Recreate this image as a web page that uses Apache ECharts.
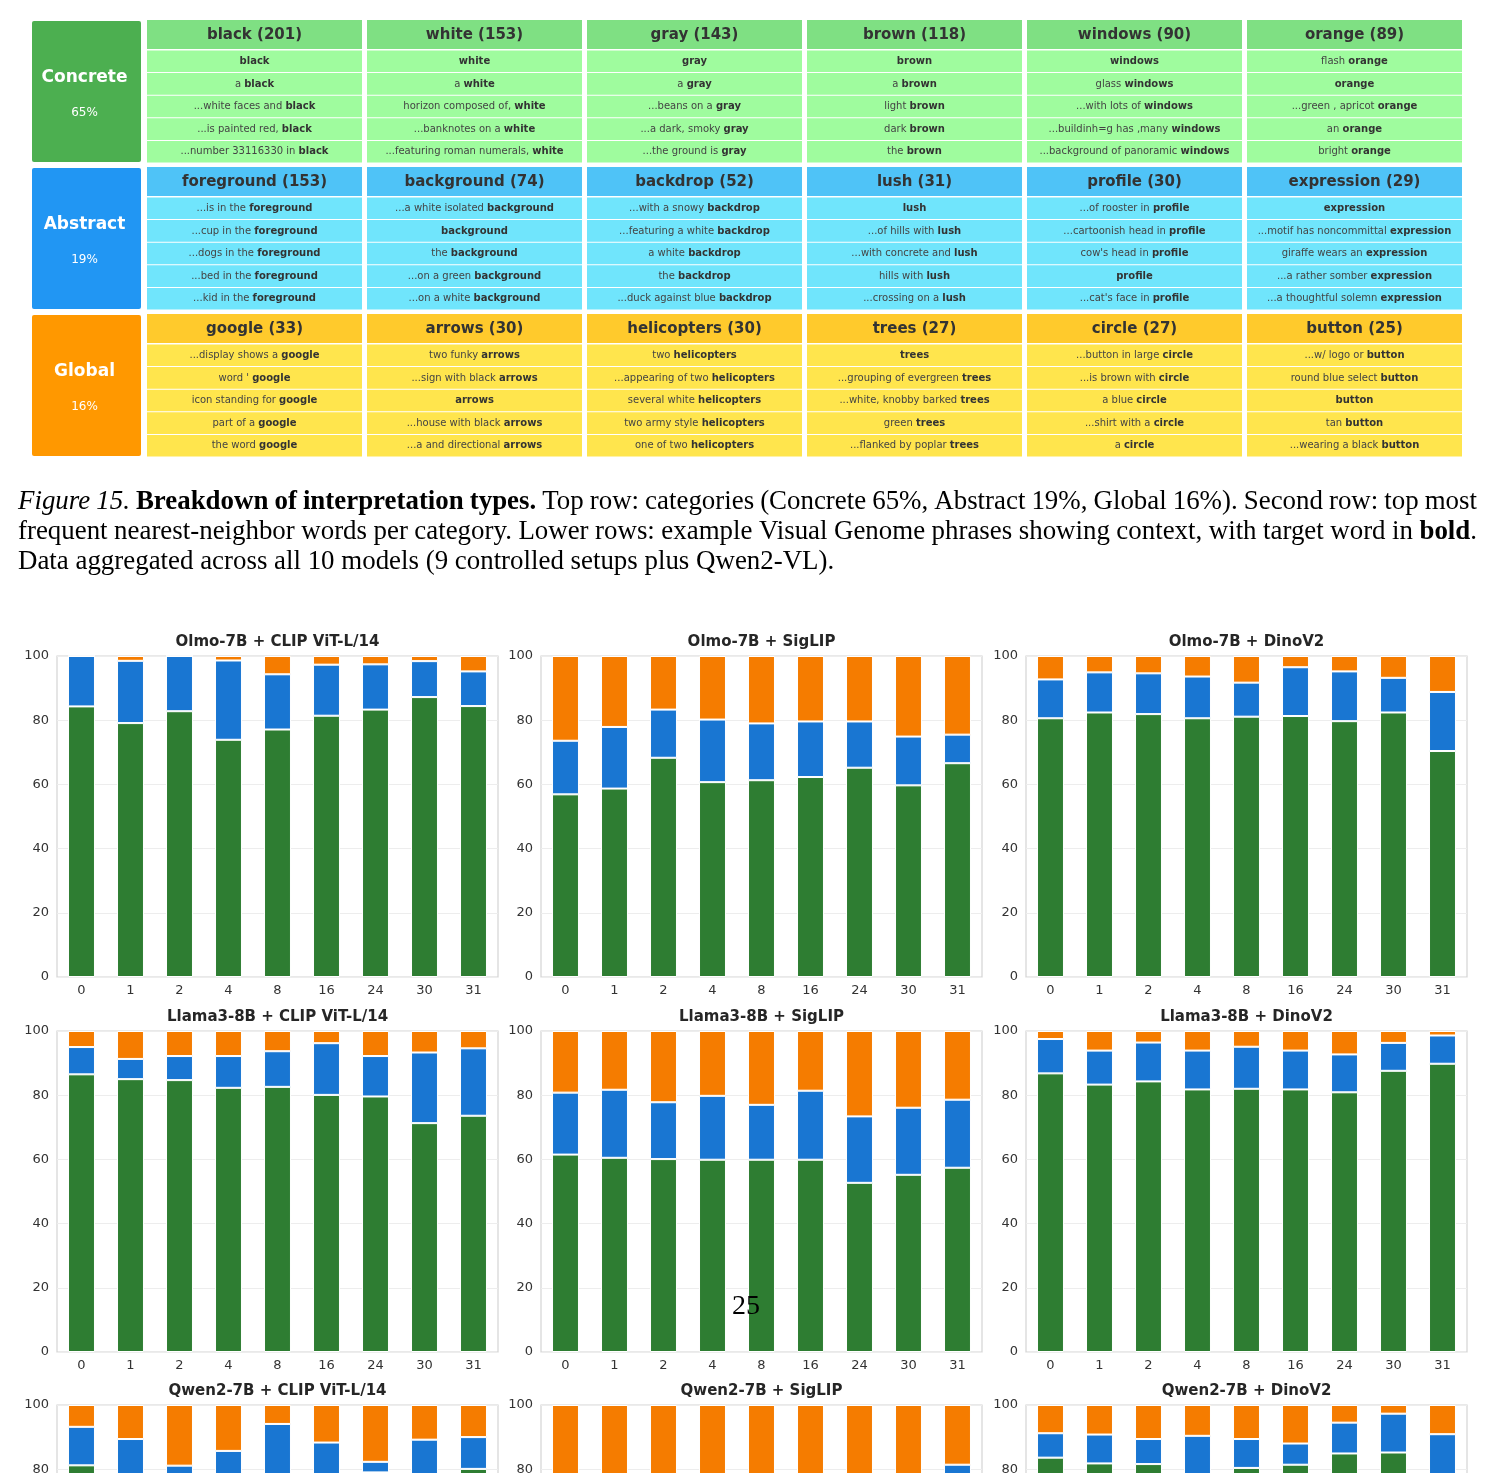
<!DOCTYPE html>
<html>
<head>
<meta charset="utf-8">
<script src="https://cdn.jsdelivr.net/npm/echarts@6/dist/echarts.min.js"></script>
<style>
  html, body { margin: 0; padding: 0; background: #fff; overflow: hidden; }
  /* taller than the window: the bottom row of panels runs off the page */
  #chart { width: 1496px; height: 1800px; }
</style>
</head>
<body>
<div id="chart"></div>
<script>
// ---------- table data ----------
const groupNames = ['Concrete', 'Abstract', 'Global'];
const groupShares = ['65%', '19%', '16%'];

const concreteWords = ['black', 'white', 'gray', 'brown', 'windows', 'orange'];
const concreteCounts = [201, 153, 143, 118, 90, 89];
const concretePhrases = [
  ['black', 'a black', '...white faces and black', '...is painted red, black', '...number 33116330 in black'],
  ['white', 'a white', 'horizon composed of, white', '...banknotes on a white', '...featuring roman numerals, white'],
  ['gray', 'a gray', '...beans on a gray', '...a dark, smoky gray', '...the ground is gray'],
  ['brown', 'a brown', 'light brown', 'dark brown', 'the brown'],
  ['windows', 'glass windows', '...with lots of windows', '...buildinh=g has ,many windows', '...background of panoramic windows'],
  ['flash orange', 'orange', '...green , apricot orange', 'an orange', 'bright orange']
];

const abstractWords = ['foreground', 'background', 'backdrop', 'lush', 'profile', 'expression'];
const abstractCounts = [153, 74, 52, 31, 30, 29];
const abstractPhrases = [
  ['...is in the foreground', '...cup in the foreground', '...dogs in the foreground', '...bed in the foreground', '...kid in the foreground'],
  ['...a white isolated background', 'background', 'the background', '...on a green background', '...on a white background'],
  ['...with a snowy backdrop', '...featuring a white backdrop', 'a white backdrop', 'the backdrop', '...duck against blue backdrop'],
  ['lush', '...of hills with lush', '...with concrete and lush', 'hills with lush', '...crossing on a lush'],
  ['...of rooster in profile', '...cartoonish head in profile', "cow's head in profile", 'profile', "...cat's face in profile"],
  ['expression', '...motif has noncommittal expression', 'giraffe wears an expression', '...a rather somber expression', '...a thoughtful solemn expression']
];

const globalWords = ['google', 'arrows', 'helicopters', 'trees', 'circle', 'button'];
const globalCounts = [33, 30, 30, 27, 27, 25];
const globalPhrases = [
  ['...display shows a google', "word ' google", 'icon standing for google', 'part of a google', 'the word google'],
  ['two funky arrows', '...sign with black arrows', 'arrows', '...house with black arrows', '...a and directional arrows'],
  ['two helicopters', '...appearing of two helicopters', 'several white helicopters', 'two army style helicopters', 'one of two helicopters'],
  ['trees', '...grouping of evergreen trees', '...white, knobby barked trees', 'green trees', '...flanked by poplar trees'],
  ['...button in large circle', '...is brown with circle', 'a blue circle', '...shirt with a circle', 'a circle'],
  ['...w/ logo or button', 'round blue select button', 'button', 'tan button', '...wearing a black button']
];

// ---------- caption ----------
const captionLines = [
  [['Figure 15. ', 'i'], ['Breakdown of interpretation types. ', 'b'], ['Top row: categories (Concrete 65%, Abstract 19%, Global 16%). Second row: top most', 'n']],
  [['frequent nearest-neighbor words per category. Lower rows: example Visual Genome phrases showing context, with target word in ', 'n'], ['bold', 'b'], ['.', 'n']],
  [['Data aggregated across all 10 models (9 controlled setups plus Qwen2-VL).', 'n']]
];
const pageNumber = '25';

// ---------- bar chart data (percent of interpretations per layer) ----------
const layers = ['0', '1', '2', '4', '8', '16', '24', '30', '31'];
const panelTitles = [
  'Olmo-7B + CLIP ViT-L/14', 'Olmo-7B + SigLIP', 'Olmo-7B + DinoV2',
  'Llama3-8B + CLIP ViT-L/14', 'Llama3-8B + SigLIP', 'Llama3-8B + DinoV2',
  'Qwen2-7B + CLIP ViT-L/14', 'Qwen2-7B + SigLIP', 'Qwen2-7B + DinoV2'
];

const olmoClipConcrete = [84.3, 79.1, 82.8, 73.9, 77.1, 81.4, 83.3, 87.2, 84.4];
const olmoClipAbstract = [15.7, 19.4, 17.2, 24.7, 17.2, 15.9, 14.1, 11.2, 10.8];
const olmoClipGlobal   = [0, 1.5, 0, 1.4, 5.7, 2.7, 2.6, 1.6, 4.8];

const olmoSiglipConcrete = [56.9, 58.7, 68.3, 60.7, 61.3, 62.3, 65.2, 59.7, 66.6];
const olmoSiglipAbstract = [16.7, 19.2, 15.0, 19.5, 17.7, 17.3, 14.4, 15.2, 8.9];
const olmoSiglipGlobal   = [26.4, 22.1, 16.7, 19.8, 21.0, 20.4, 20.4, 25.1, 24.5];

const olmoDinoConcrete = [80.6, 82.4, 81.9, 80.6, 81.1, 81.3, 79.7, 82.4, 70.4];
const olmoDinoAbstract = [12.1, 12.5, 12.7, 13.0, 10.6, 15.2, 15.5, 10.8, 18.4];
const olmoDinoGlobal   = [7.3, 5.1, 5.4, 6.4, 8.3, 3.5, 4.8, 6.8, 11.2];

const llamaClipConcrete = [86.5, 85.0, 84.7, 82.3, 82.6, 80.1, 79.6, 71.3, 73.6];
const llamaClipAbstract = [8.5, 6.3, 7.5, 9.9, 11.1, 16.1, 12.6, 22.0, 21.0];
const llamaClipGlobal   = [5.0, 8.7, 7.8, 7.8, 6.3, 3.8, 7.8, 6.7, 5.4];

const llamaSiglipConcrete = [61.5, 60.5, 60.1, 59.9, 59.9, 59.9, 52.7, 55.2, 57.4];
const llamaSiglipAbstract = [19.3, 21.2, 17.7, 19.9, 17.1, 21.5, 20.7, 20.9, 21.2];
const llamaSiglipGlobal   = [19.2, 18.3, 22.2, 20.2, 23.0, 18.6, 26.6, 23.9, 21.4];

const llamaDinoConcrete = [86.8, 83.3, 84.3, 81.8, 82.0, 81.8, 80.9, 87.6, 89.8];
const llamaDinoAbstract = [10.7, 10.6, 12.1, 12.1, 13.1, 12.1, 11.8, 8.7, 8.8];
const llamaDinoGlobal   = [2.5, 6.1, 3.6, 6.1, 4.9, 6.1, 7.3, 3.7, 1.4];

const qwenClipConcrete = [81.2, 62.0, 78.0, 66.0, 71.0, 69.0, 79.0, 64.0, 80.1];
const qwenClipAbstract = [12.0, 27.4, 3.1, 19.7, 23.1, 19.3, 3.3, 25.2, 9.9];
const qwenClipGlobal   = [6.8, 10.6, 18.9, 14.3, 5.9, 11.7, 17.7, 10.8, 10.0];

const qwenSiglipConcrete = [30.0, 32.0, 35.0, 33.0, 34.0, 33.0, 31.0, 30.0, 45.0];
const qwenSiglipAbstract = [15.0, 14.0, 16.0, 17.0, 15.0, 16.0, 18.0, 17.0, 36.4];
const qwenSiglipGlobal   = [55.0, 54.0, 49.0, 50.0, 51.0, 51.0, 51.0, 53.0, 18.6];

const qwenDinoConcrete = [83.6, 81.8, 81.6, 78.0, 80.4, 81.4, 84.9, 85.2, 77.0];
const qwenDinoAbstract = [7.6, 9.0, 7.8, 12.4, 9.0, 6.6, 9.6, 12.1, 13.9];
const qwenDinoGlobal   = [8.8, 9.2, 10.6, 9.6, 10.6, 12.0, 5.5, 2.7, 9.1];

const panelData = [
  [olmoClipConcrete, olmoClipAbstract, olmoClipGlobal],
  [olmoSiglipConcrete, olmoSiglipAbstract, olmoSiglipGlobal],
  [olmoDinoConcrete, olmoDinoAbstract, olmoDinoGlobal],
  [llamaClipConcrete, llamaClipAbstract, llamaClipGlobal],
  [llamaSiglipConcrete, llamaSiglipAbstract, llamaSiglipGlobal],
  [llamaDinoConcrete, llamaDinoAbstract, llamaDinoGlobal],
  [qwenClipConcrete, qwenClipAbstract, qwenClipGlobal],
  [qwenSiglipConcrete, qwenSiglipAbstract, qwenSiglipGlobal],
  [qwenDinoConcrete, qwenDinoAbstract, qwenDinoGlobal]
];
const seriesNames = ['Concrete', 'Abstract', 'Global'];

// ---------- styles ----------
const barColors = ['#2e7d32', '#1976d2', '#f57c00'];
const boxColors = ['#4caf50', '#2196f3', '#ff9800'];
const headColors = ['#7fe083', '#4fc3f7', '#ffca2c'];
const cellColors = ['#9ffc9e', '#70e5fc', '#ffe54d'];
const tableFont = 'DejaVu Sans';

const groupTop = [20, 167, 314];
const colLeft = 147, colStep = 220, colWidth = 215;
const gridLeft = [57, 541, 1026];
const gridTop = [656, 1031, 1405];
const gridW = 441, gridH = 321;

// ---------- table as graphic elements ----------
const elements = [];
const allWords = [concreteWords, abstractWords, globalWords];
const allCounts = [concreteCounts, abstractCounts, globalCounts];
const allPhrases = [concretePhrases, abstractPhrases, globalPhrases];

groupNames.forEach((name, g) => {
  const top = groupTop[g];
  elements.push({ type: 'rect', shape: { x: 32, y: top + 1, width: 109, height: 141, r: 2 }, style: { fill: boxColors[g] } });
  elements.push({ type: 'text', x: 84.5, y: top + 58, style: {
    text: name, fill: '#fff', fontSize: 17, fontWeight: 'bold', fontFamily: tableFont, align: 'center', verticalAlign: 'middle' } });
  elements.push({ type: 'text', x: 84.5, y: top + 93, style: {
    text: groupShares[g], fill: '#fff', fontSize: 12, fontFamily: tableFont, align: 'center', verticalAlign: 'middle' } });

  allWords[g].forEach((word, c) => {
    const x = colLeft + c * colStep;
    elements.push({ type: 'rect', shape: { x, y: top, width: colWidth, height: 29 }, style: { fill: headColors[g] } });
    elements.push({ type: 'text', x: x + colWidth / 2, y: top + 15, style: {
      text: word + ' (' + allCounts[g][c] + ')', fill: '#333', fontSize: 15, fontWeight: 'bold',
      fontFamily: tableFont, align: 'center', verticalAlign: 'middle' } });
    allPhrases[g][c].forEach((phrase, r) => {
      const y = top + 30.5 + r * 22.6;
      const k = phrase.lastIndexOf(word);
      const rich = phrase.slice(0, k) + '{b|' + word + '}' + phrase.slice(k + word.length);
      elements.push({ type: 'rect', shape: { x, y, width: colWidth, height: 21.6 }, style: { fill: cellColors[g] } });
      elements.push({ type: 'text', x: x + colWidth / 2, y: y + 11, style: {
        text: rich, fill: '#444', fontSize: 10, fontFamily: tableFont, align: 'center', verticalAlign: 'middle',
        rich: { b: { fill: '#333', fontSize: 10, fontWeight: 'bold', fontFamily: tableFont } } } });
    });
  });
});

// ---------- caption (justified lines) ----------
const ctx = document.createElement('canvas').getContext('2d');
const capFonts = {
  n: '26.9px "Liberation Serif"',
  i: 'italic 26.9px "Liberation Serif"',
  b: 'bold 26.9px "Liberation Serif"'
};
const capLeft = 18, capRight = 1477, capY = 502, capStep = 30;
const capJustify = [true, true, false];

function splitWords(segs) {
  const out = [];
  let cur = [];
  segs.forEach(([t, s]) => {
    t.split(/( )/).forEach(p => {
      if (p === ' ') { if (cur.length) out.push(cur); cur = []; }
      else if (p) cur.push([p, s]);
    });
  });
  if (cur.length) out.push(cur);
  return out;
}
function textW(t, s) { ctx.font = capFonts[s]; return ctx.measureText(t).width; }

captionLines.forEach((segs, li) => {
  const words = splitWords(segs);
  const widths = words.map(w => w.reduce((a, [t, s]) => a + textW(t, s), 0));
  const total = widths.reduce((a, b) => a + b, 0);
  const gap = capJustify[li] ? (capRight - capLeft - total) / (words.length - 1) : textW(' ', 'n');
  let x = capLeft;
  words.forEach(w => {
    w.forEach(([t, s]) => {
      elements.push({ type: 'text', x, y: capY + li * capStep, style: {
        text: t, font: capFonts[s], fill: '#000', verticalAlign: 'middle' } });
      x += textW(t, s);
    });
    x += gap;
  });
});

// page number printed over the middle panel
elements.push({ type: 'text', x: 746, y: 1307, z: 100, style: {
  text: pageNumber, font: '28px "Liberation Serif"', fill: '#000', align: 'center', verticalAlign: 'middle' } });

// ---------- chart panels ----------
const titles = [], grids = [], xAxes = [], yAxes = [], series = [];
panelTitles.forEach((t, i) => {
  const left = gridLeft[i % 3], top = gridTop[Math.floor(i / 3)];
  titles.push({
    text: t, left: left + gridW / 2, top: top - 21, textAlign: 'center', padding: 0,
    textStyle: { fontSize: 15, fontWeight: 'bold', color: '#262626', fontFamily: 'DejaVu Sans' }
  });
  grids.push({ left, top, width: gridW, height: gridH, show: true, borderColor: '#d4d4d4', borderWidth: 1.2 });
  xAxes.push({
    type: 'category', gridIndex: i, data: layers,
    axisLine: { show: false }, axisTick: { show: false },
    axisLabel: { fontSize: 13, color: '#333', margin: 7, fontFamily: 'DejaVu Sans' }
  });
  yAxes.push({
    type: 'value', gridIndex: i, min: 0, max: 100, interval: 20,
    axisLine: { show: false }, axisTick: { show: false },
    axisLabel: { fontSize: 13, color: '#333', margin: 8, fontFamily: 'DejaVu Sans' },
    splitLine: { lineStyle: { color: '#ededed', width: 1 } }
  });
  panelData[i].forEach((vals, s) => {
    series.push({
      type: 'bar', name: seriesNames[s], xAxisIndex: i, yAxisIndex: i, stack: 'p' + i,
      data: vals, barWidth: '55%',
      itemStyle: { color: barColors[s], borderColor: '#fff', borderWidth: 1 }
    });
  });
});

const chart = echarts.init(document.getElementById('chart'));
chart.setOption({
  animation: false,
  backgroundColor: '#fff',
  title: titles,
  grid: grids,
  xAxis: xAxes,
  yAxis: yAxes,
  series,
  graphic: { elements }
});
</script>
</body>
</html>
